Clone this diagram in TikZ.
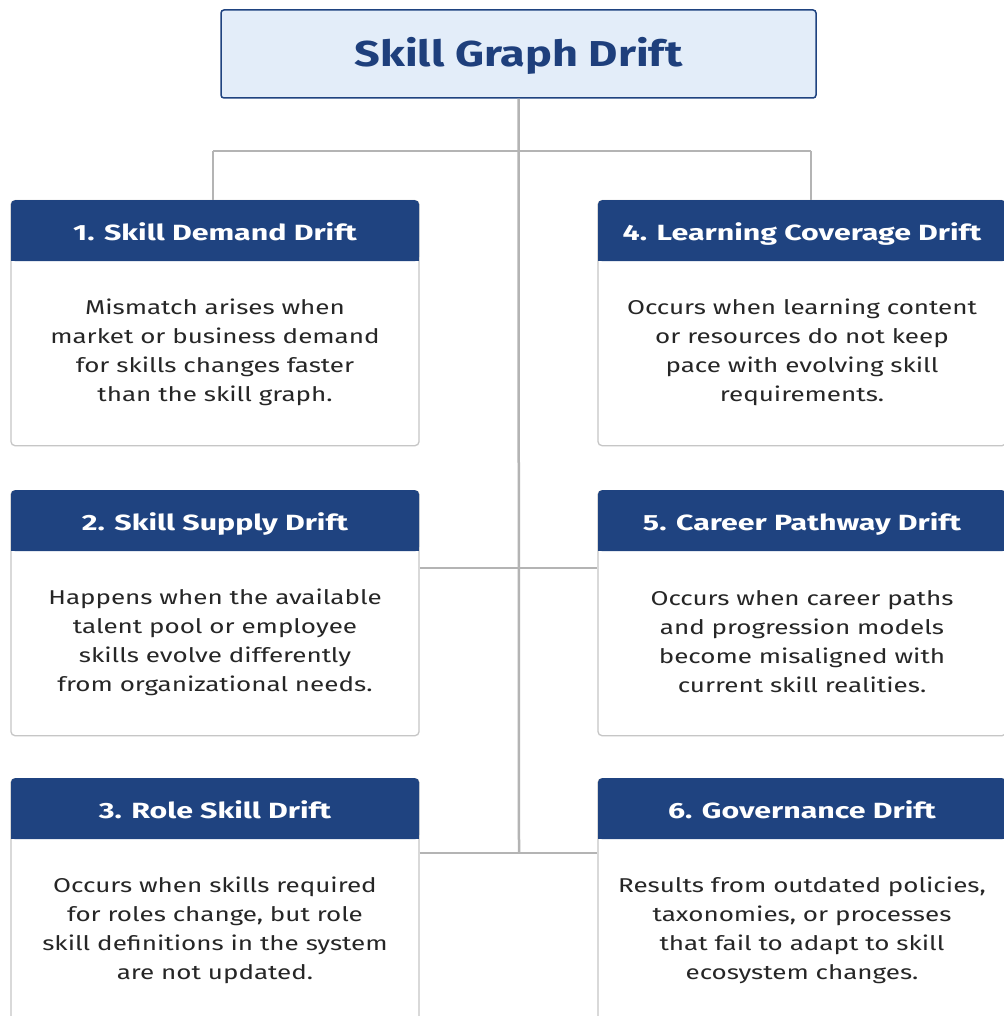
\documentclass[tikz,border=0pt]{standalone}
\usepackage{fontspec}
\setmainfont{Fira Sans}
\newfontfamily\titlefont[FakeStretch=1.25]{Fira Sans}
\newfontfamily\headfont[FakeStretch=1.38]{Fira Sans}
\newfontfamily\bodyfont[FakeStretch=1.3]{Fira Sans}
\usetikzlibrary{calc}
\definecolor{navy}{HTML}{1F4380}
\definecolor{titlefill}{HTML}{E3EDF9}
\definecolor{titletext}{HTML}{1E3F7C}
\definecolor{wire}{HTML}{B4B4B4}
\definecolor{cardedge}{HTML}{C6C6C6}
\definecolor{bodytext}{HTML}{262626}
\tikzset{
  x=1pt, y=-1pt,
  titlebox/.style={draw=navy, line width=1.5pt, fill=titlefill, rounded corners=3pt,
    minimum width=595pt, minimum height=88pt, inner sep=0pt},
  titlelabel/.style={font=\titlefont\fontsize{36}{42}\selectfont\bfseries, text=titletext, inner sep=0pt},
  cardbody/.style={draw=cardedge, line width=1.3pt, fill=white, rounded corners=4pt,
    minimum width=408pt, minimum height=245pt, inner sep=0pt},
  cardhead/.style={fill=navy, rounded corners=4pt, minimum width=408pt, minimum height=61pt,
    inner sep=0pt},
  headlabel/.style={text=white, font=\headfont\fontsize{22}{26}\selectfont\bfseries, inner sep=0pt},
  cardtext/.style={align=center, text=bodytext, font=\bodyfont\fontsize{20}{29}\selectfont, inner sep=0pt},
  wireline/.style={draw=wire, line width=2.5pt}
}
\newcommand{\card}[5]{%
  % #1 name, #2 centre x, #3 top y, #4 heading, #5 description
  \node[cardbody, anchor=north] (#1) at (#2,#3) {};
  \node[cardhead, anchor=north] (#1h) at (#2,#3) {};
  \fill[navy] ($(#1h.south west)+(0,-6)$) rectangle (#1h.south east);
  \node[headlabel, anchor=base] (#1l) at ($(#1h.center)+(0,10)$) {#4};
  \node[cardtext] (#1t) at ($(#1h.south)!0.5!(#1.south)+(0,-2)$) {#5};
}
\begin{document}
\begin{tikzpicture}
\useasboundingbox (0,0) rectangle (1003,1016);
\fill[white] (0,0) rectangle (1003,1016);

% connector junctions
\coordinate (top) at (519,151);
\coordinate (mid) at (519,568);
\coordinate (low) at (519,853);

\node[titlebox] (title) at (518.5,54) {};
\node[titlelabel, anchor=base] (titlel) at ($(title.center)+(0,13)$) {Skill Graph Drift};

% wires behind the cards
\draw[wireline] (title.south) -- (low);
\draw[wireline] (213,151) -- (811,151);
\draw[wireline] (213,151) -- (213,205);
\draw[wireline] (811,151) -- (811,205);

\card{c1}{215}{200}{1. Skill Demand Drift}{Mismatch arises when\\market or business demand\\for skills changes faster\\than the skill graph.}
\card{c2}{215}{490}{2. Skill Supply Drift}{Happens when the available\\talent pool or employee\\skills evolve differently\\from organizational needs.}
\card{c3}{215}{778}{3. Role Skill Drift}{Occurs when skills required\\for roles change, but role\\skill definitions in the system\\are not updated.}
\card{c4}{802}{200}{4. Learning Coverage Drift}{Occurs when learning content\\or resources do not keep\\pace with evolving skill\\requirements.}
\card{c5}{802}{490}{5. Career Pathway Drift}{Occurs when career paths\\and progression models\\become misaligned with\\current skill realities.}
\card{c6}{802}{778}{6. Governance Drift}{Results from outdated policies,\\taxonomies, or processes\\that fail to adapt to skill\\ecosystem changes.}

% cross links between the columns
\draw[wireline] (c2.east |- mid) -- (c5.west |- mid);
\draw[wireline] (c3.east |- low) -- (c6.west |- low);
\end{tikzpicture}
\end{document}
